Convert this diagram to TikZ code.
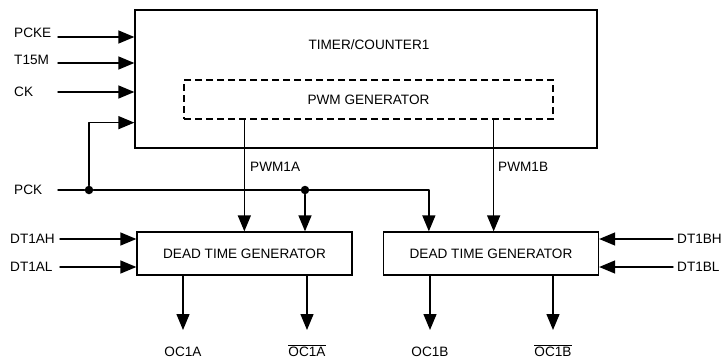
\documentclass[tikz,border=0pt]{standalone}
\usepackage{fontspec}
\setmainfont{Liberation Sans}
\usetikzlibrary{arrows.meta,positioning}
\tikzset{
  every node/.style={font=\fontsize{13.6}{16}\selectfont},
  box/.style={draw=black, line width=1.3pt, inner sep=0pt},
  dtg box/.style={box, minimum width=215pt, minimum height=43pt},
  lbl/.style={inner sep=0pt},
  wire/.style={line width=1.4pt, line cap=round, line join=round},
  sig/.style={wire, -{Triangle[length=16pt, width=13pt]}},
  junction/.style={circle, fill=black, inner sep=0pt, minimum size=8.5pt}
}

\begin{document}
\begin{tikzpicture}[x=1pt,y=1pt]
  \useasboundingbox (0,0) rectangle (725,360);

  % blocks
  \node[box, minimum width=462pt, minimum height=138pt] (timer) at (366,281) {};
  \node (title) at (369,315) {TIMER/COUNTER1};
  \node[box, dash pattern=on 7pt off 4pt, minimum width=369pt, minimum height=39pt]
    (pwm) at (368.5,260.5) {PWM GENERATOR};
  \node[dtg box] (dtga) at (244.5,106.5) {DEAD TIME GENERATOR};
  \node[dtg box] (dtgb) at (491,106.5) {DEAD TIME GENERATOR};

  % timer inputs
  \foreach \name/\y/\ty in {PCKE/323/327, T15M/297/300, CK/268/268} {
    \node[lbl, anchor=west] (lbl-\name) at (14,\ty) {\name};
    \coordinate (src-\name) at (58,\y);
    \draw[sig] (src-\name) -- (src-\name -| timer.west);
  }

  % PCK net
  \node[lbl, anchor=west] (lbl-PCK) at (14,170) {PCK};
  \coordinate (src-PCK) at (58,170);
  \node[junction] (j1) at (89,170) {};
  \node[junction] (j2) at (305,170) {};
  \draw[wire] (src-PCK) -- (j1) -- (j2);
  \draw[sig] (j2) -| ([xshift=46pt]dtgb.north west);
  \draw[sig] (j1) |- ([yshift=26pt]timer.south west);
  \draw[sig] (j2) -- (j2 |- dtga.north);

  % PWM outputs
  \coordinate (pwmA) at ([xshift=61pt]pwm.south west);
  \coordinate (pwmB) at ([xshift=-60pt]pwm.south east);
  \draw[sig] (pwmA) -- (pwmA |- dtga.north);
  \draw[sig] (pwmB) -- (pwmB |- dtgb.north);
  \node[lbl, anchor=west] (lbl-PWM1A) at (250,193) {PWM1A};
  \node[lbl, anchor=west] (lbl-PWM1B) at (498,193) {PWM1B};

  % dead time inputs
  \foreach \name/\y in {DT1AH/121, DT1AL/93} {
    \node[lbl, anchor=west] (lbl-\name) at (10,\y) {\name};
    \coordinate (src-\name) at (60,\y);
    \draw[sig] (src-\name) -- (src-\name -| dtga.west);
  }
  \foreach \name/\y in {DT1BH/121, DT1BL/93} {
    \node[lbl, anchor=west] (lbl-\name) at (677,\y) {\name};
    \coordinate (src-\name) at (673,\y);
    \draw[sig] (src-\name) -- (src-\name -| dtgb.east);
  }

  % outputs
  \node[lbl, anchor=base] (oc1a) at (183,3.5) {OC1A};
  \node[lbl, anchor=base] (oc1an) at (307,3.5) {$\overline{\hbox{OC1A}}$};
  \node[lbl, anchor=base] (oc1b) at (430,3.5) {OC1B};
  \node[lbl, anchor=base] (oc1bn) at (553,3.5) {$\overline{\hbox{OC1B}}$};
  \foreach \out/\blk in {oc1a/dtga, oc1an/dtga, oc1b/dtgb, oc1bn/dtgb} {
    \draw[sig] (\blk.south -| \out.base) -- ([yshift=26.5pt]\out.base);
  }
\end{tikzpicture}
\end{document}
